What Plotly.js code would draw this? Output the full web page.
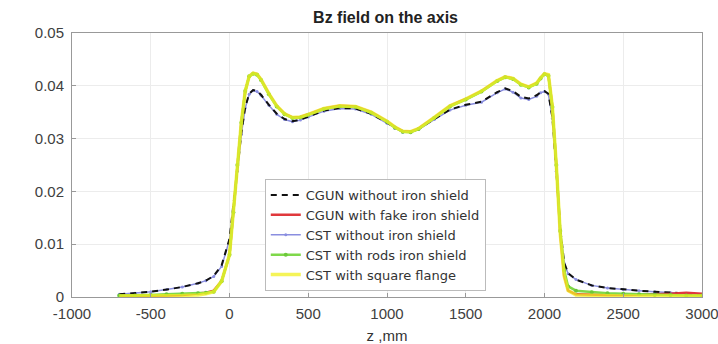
<!DOCTYPE html>
<html>
<head>
<meta charset="utf-8">
<script src="https://cdn.plot.ly/plotly-3.0.1.min.js"></script>
<style>html,body{margin:0;padding:0;background:#fff;}#chart{width:718px;height:344px;}</style>
</head>
<body>
<div id="chart"></div>
<script>
var z = [-700,-600,-500,-400,-300,-200,-150,-100,-50,0,25,50,75,100,125,150,175,200,250,300,350,400,450,500,600,700,800,900,1000,1050,1100,1150,1200,1300,1400,1500,1600,1700,1750,1800,1850,1900,1950,1975,2000,2025,2050,2075,2100,2125,2150,2200,2300,2400,2500,2600,2700,2800,2900,3000];

var cgunNoIron = [0.0005,0.0007,0.0010,0.0014,0.0019,0.0026,0.0031,0.0040,0.0060,0.0110,0.0170,0.0240,0.0310,0.0360,0.0385,0.0392,0.0390,0.0383,0.0364,0.0347,0.0337,0.0333,0.0336,0.0342,0.0353,0.0358,0.0357,0.0347,0.0330,0.0320,0.0313,0.0313,0.0318,0.0337,0.0355,0.0364,0.0370,0.0388,0.0395,0.0390,0.0379,0.0376,0.0382,0.0388,0.0390,0.0385,0.0340,0.0240,0.0130,0.0065,0.0045,0.0033,0.0022,0.0017,0.0014,0.0012,0.0010,0.0008,0.0006,0.0005];

var cgunFake = [0.0002,0.0002,0.0003,0.0003,0.0004,0.0006,0.0008,0.0012,0.0030,0.0080,0.0160,0.0250,0.0330,0.0390,0.0418,0.0424,0.0422,0.0412,0.0385,0.0362,0.0347,0.0340,0.0341,0.0346,0.0357,0.0362,0.0361,0.0350,0.0333,0.0322,0.0314,0.0313,0.0319,0.0340,0.0362,0.0375,0.0390,0.0410,0.0417,0.0414,0.0403,0.0398,0.0405,0.0415,0.0423,0.0420,0.0360,0.0250,0.0120,0.0040,0.0012,0.0005,0.0004,0.0004,0.0004,0.0004,0.0005,0.0006,0.0008,0.0006];

var cstNoIron = [0.0005,0.0007,0.0010,0.0014,0.0019,0.0026,0.0031,0.0039,0.0058,0.0108,0.0168,0.0238,0.0308,0.0358,0.0384,0.0391,0.0389,0.0382,0.0363,0.0346,0.0336,0.0332,0.0335,0.0341,0.0352,0.0357,0.0356,0.0346,0.0329,0.0319,0.0312,0.0312,0.0317,0.0336,0.0354,0.0363,0.0369,0.0387,0.0394,0.0388,0.0377,0.0374,0.0380,0.0387,0.0389,0.0384,0.0338,0.0238,0.0128,0.0064,0.0044,0.0033,0.0022,0.0017,0.0014,0.0012,0.0010,0.0008,0.0006,0.0005];

var cstRods = [0.0003,0.0003,0.0004,0.0005,0.0006,0.0007,0.0008,0.0010,0.0030,0.0080,0.0160,0.0250,0.0330,0.0390,0.0418,0.0423,0.0421,0.0411,0.0384,0.0361,0.0346,0.0339,0.0340,0.0345,0.0356,0.0361,0.0360,0.0349,0.0332,0.0321,0.0313,0.0312,0.0318,0.0339,0.0361,0.0374,0.0389,0.0409,0.0416,0.0413,0.0402,0.0397,0.0404,0.0414,0.0422,0.0419,0.0360,0.0250,0.0125,0.0050,0.0020,0.0012,0.0009,0.0007,0.0006,0.0005,0.0004,0.0004,0.0003,0.0003];

var cstFlange = [0.0002,0.0002,0.0002,0.0003,0.0003,0.0004,0.0006,0.0010,0.0030,0.0080,0.0160,0.0250,0.0330,0.0390,0.0418,0.0424,0.0422,0.0412,0.0385,0.0362,0.0347,0.0340,0.0341,0.0346,0.0357,0.0362,0.0361,0.0350,0.0333,0.0322,0.0314,0.0313,0.0319,0.0340,0.0362,0.0375,0.0390,0.0410,0.0417,0.0414,0.0403,0.0398,0.0405,0.0415,0.0423,0.0421,0.0360,0.0250,0.0120,0.0040,0.0012,0.0004,0.0003,0.0002,0.0002,0.0002,0.0002,0.0002,0.0002,0.0002];

var names = ['CGUN without iron shield','CGUN with fake iron shield','CST without iron shield','CST with rods iron shield','CST with square flange'];

var xTickVals = [-1000,-500,0,500,1000,1500,2000,2500,3000];
var xTickText = ['-1000','-500','0','500','1000','1500','2000','2500','3000'];
var yTickVals = [0,0.01,0.02,0.03,0.04,0.05];
var yTickText = ['0','0.01','0.02','0.03','0.04','0.05'];

var traces = [
  {x: z, y: cstNoIron, name: names[2], legendrank: 3, mode: 'lines+markers', line: {color: '#8a8ee0', width: 1.5}, marker: {size: 3, color: '#8a8ee0'}},
  {x: z, y: cgunNoIron, name: names[0], legendrank: 1, mode: 'lines', line: {color: '#111111', width: 2, dash: '6px,5px'}},
  {x: z, y: cgunFake, name: names[1], legendrank: 2, mode: 'lines', line: {color: '#e0383c', width: 2.5}},
  {x: z, y: cstRods, name: names[3], legendrank: 4, mode: 'lines+markers', line: {color: '#7fd84a', width: 2.5}, marker: {size: 4, color: '#6cc83a'}},
  {x: z, y: cstFlange, name: names[4], legendrank: 5, mode: 'lines', opacity: 0.75, line: {color: '#f2f020', width: 3.5}}
];

var layout = {
  width: 718, height: 344,
  margin: {l: 72, r: 16, t: 33, b: 47},
  paper_bgcolor: '#ffffff', plot_bgcolor: '#ffffff',
  font: {family: 'Liberation Sans, Arial, sans-serif', size: 15, color: '#404040'},
  title: {text: '<b>Bz field on the axis</b>', font: {size: 16, color: '#222222'}, x: 0.537, xanchor: 'center', y: 0.95, yanchor: 'middle'},
  showlegend: true,
  legend: {x: 0.306, y: 0.447, xanchor: 'left', yanchor: 'top', bgcolor: '#ffffff', bordercolor: '#bbbbbb', borderwidth: 1, font: {family: 'DejaVu Sans, sans-serif', size: 13, color: '#333333'}, tracegroupgap: 0},
  xaxis: {
    range: [-1000, 3000], tickmode: 'array', tickvals: xTickVals, ticktext: xTickText,
    showgrid: true, gridcolor: '#ececec', ticklabelstandoff: 3, ticklabeloverflow: 'allow',
    zeroline: false, showline: true, linecolor: '#999999', mirror: true,
    ticks: 'inside', ticklen: 4, tickcolor: '#999999',
    title: {text: 'z ,mm', font: {size: 15, color: '#333333'}, standoff: 10}
  },
  yaxis: {
    range: [0, 0.05], tickmode: 'array', tickvals: yTickVals, ticktext: yTickText,
    showgrid: true, gridcolor: '#ececec', ticklabelstandoff: 4,
    zeroline: false, showline: true, linecolor: '#999999', mirror: true,
    ticks: 'inside', ticklen: 4, tickcolor: '#999999'
  }
};

Plotly.newPlot('chart', traces, layout, {displayModeBar: false, staticPlot: true});
</script>
</body>
</html>
